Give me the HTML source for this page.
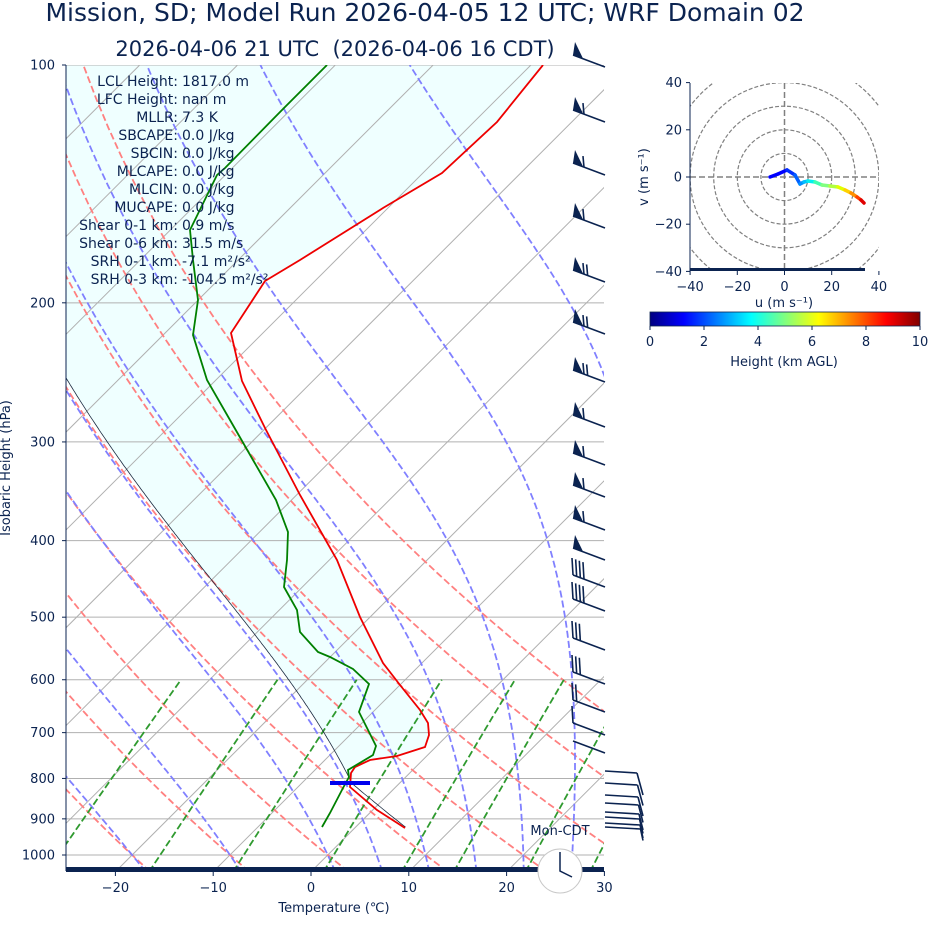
<!DOCTYPE html>
<html><head><meta charset="utf-8"><style>
html,body{margin:0;padding:0;background:#fff;}
svg{display:block;font-family:"DejaVu Sans","Liberation Sans",sans-serif;}
</style></head><body>
<svg id="s" width="928" height="936" viewBox="0 0 928 936" xmlns="http://www.w3.org/2000/svg">
<defs>
<clipPath id="pc"><rect x="66" y="65" width="538" height="806"/></clipPath>
<clipPath id="hc"><rect x="690" y="83" width="189" height="188"/></clipPath>
<linearGradient id="jet" x1="0" x2="1" y1="0" y2="0">
<stop offset="0" stop-color="#000080"/><stop offset="0.125" stop-color="#0000ff"/>
<stop offset="0.375" stop-color="#00ffff"/><stop offset="0.625" stop-color="#ffff00"/>
<stop offset="0.875" stop-color="#ff0000"/><stop offset="1" stop-color="#800000"/>
</linearGradient>
</defs>
<g id="plot" clip-path="url(#pc)"></g>
<g id="over"></g>
<g fill="#0b2350">
<text x="425" y="21" font-size="25" text-anchor="middle">Mission, SD; Model Run 2026-04-05 12 UTC; WRF Domain 02</text>
<text x="335" y="56" font-size="21" text-anchor="middle" xml:space="preserve">2026-04-06 21 UTC  (2026-04-06 16 CDT)</text>
<text x="334" y="912" font-size="13" text-anchor="middle">Temperature (℃)</text>
<text transform="translate(10,468) rotate(-90)" font-size="13" text-anchor="middle">Isobaric Height (hPa)</text>
<text x="560" y="835" font-size="13" text-anchor="middle">Mon-CDT</text>
</g>
<g font-size="14" fill="#0b2350" id="info"></g>
<g id="hodo"></g>
<rect x="650" y="312" width="270" height="14" fill="url(#jet)" stroke="#0b2350" stroke-width="0.8"/>
<g fill="#0b2350" font-size="13" text-anchor="middle" id="cb"></g>
<text x="784" y="366" font-size="13" fill="#0b2350" text-anchor="middle">Height (km AGL)</text>
</svg>
<script>
var NS="http://www.w3.org/2000/svg";
function el(parent,tag,attrs,txt){var e=document.createElementNS(NS,tag);for(var k in attrs)e.setAttribute(k,attrs[k]);if(txt!==undefined)e.textContent=txt;parent.appendChild(e);return e;}
var plot=document.getElementById('plot'),over=document.getElementById('over');
function Y(p){return 65+790*Math.log10(p/100);}
var YB=Y(1050);
function X(T,p){return 311+9.78*T+(YB-Y(p));}
function pl(pts){return pts.map(function(q){return q[0].toFixed(1)+','+q[1].toFixed(1)}).join(' ');}
var plev=[100,200,300,400,500,600,700,800,900,1000];
plev.forEach(function(p){el(plot,'line',{x1:66,x2:604,y1:Y(p),y2:Y(p),stroke:'#b0b0b0','stroke-width':1});});
for(var T=-150;T<=50;T+=10){var x0=311+9.78*T;el(plot,'line',{x1:x0,y1:YB,x2:x0+900,y2:YB-900,stroke:'#b0b0b0','stroke-width':1});}
var Rd=287.04,Cp=1005.7,Lv=2.501e6,eps=0.622;
function es(Tc){return 6.112*Math.exp(17.67*Tc/(Tc+243.5));}
function dTdp(T,p){var e=es(T-273.15);var rs=eps*e/(p-e);return (Rd*T+Lv*rs)/(Cp+Lv*Lv*rs*eps/(Rd*T*T))/p;}
function moist(T0,p0,p1){var pts=[],T=T0,p=p0,dp=(p1<p0?-2:2);pts.push([p,T]);
 while((dp<0&&p>p1)||(dp>0&&p<p1)){var k1=dTdp(T,p),k2=dTdp(T+k1*dp/2,p+dp/2),k3=dTdp(T+k2*dp/2,p+dp/2),k4=dTdp(T+k3*dp,p+dp);T+=dp*(k1+2*k2+2*k3+k4)/6;p+=dp;pts.push([p,T]);}
 return pts;}
var tProf=[[543,65],[497,122],[442,173],[383,208],[300,260],[265,281],[231,333],[242,381],[265,428],[300,495],[337,560],[360,617],[383,663],[400,685],[420,710],[428,723],[429,735],[425,747],[397,756],[370,760],[355,767],[351,773],[350,787],[357,793],[377,810],[405,828]];
var dProf=[[327,65],[282,110],[225,168],[217,175],[190,230],[193,260],[198,300],[193,335],[207,380],[230,420],[253,460],[276,500],[288,532],[287,560],[284,587],[297,610],[300,632],[318,652],[330,657],[353,669],[369,684],[359,712],[376,746],[373,755],[348,770],[349,777],[343,788],[330,813],[322,827]];
var Ts=278.25,ps=922,plcl=812;var Tl=Ts*Math.pow(plcl/ps,0.2857);
var par=moist(Tl,plcl,100).map(function(a){return [X(a[1]-273.15,a[0]),Y(a[0])];});
var dry=[];for(var p=ps;p>=plcl;p-=5){dry.push([X(Ts*Math.pow(p/ps,0.2857)-273.15,p),Y(p)]);}
dry.push([X(Tl-273.15,plcl),Y(plcl)]);
var shade=par.slice();var tr=tProf.slice(0,21);for(var i=0;i<tr.length;i++)shade.push(tr[i]);
plot.insertBefore(el(plot,'polygon',{points:pl(shade),fill:'#efffff',stroke:'none'}),plot.firstChild);
var DA='7,3.2';
for(var th=-30;th<=50;th+=10){var pts=[];for(var p=1050;p>=100;p-=10)pts.push([X((th+273.15)*Math.pow(p/1000,0.2857)-273.15,p),Y(p)]);
 el(plot,'polyline',{points:pl(pts),fill:'none',stroke:'#ff8080','stroke-width':1.8,'stroke-dasharray':DA});}
var mt=[-50,-40,-30,-20,-10,0,5,10,15,20,25,30,35];
mt.forEach(function(t){var up=moist(t+273.15,1000,100),dn=moist(t+273.15,1000,1050);var pts=dn.reverse().concat(up).map(function(a){return [X(a[1]-273.15,a[0]),Y(a[0])];});
 el(plot,'polyline',{points:pl(pts),fill:'none',stroke:'#8080ff','stroke-width':1.8,'stroke-dasharray':DA});});
[0.0004,0.001,0.002,0.004,0.007,0.01,0.016,0.024,0.032].forEach(function(w){var pts=[];for(var p=1050;p>=600;p-=10){var e=w*p/(eps+w);var L=Math.log(e/6.112);var Tc=243.5*L/(17.67-L);pts.push([X(Tc,p),Y(p)]);}
 el(plot,'polyline',{points:pl(pts),fill:'none',stroke:'#2f9a2f','stroke-width':1.8,'stroke-dasharray':DA});});
el(plot,'polyline',{points:pl(dry.concat(par)),fill:'none',stroke:'#1a2a40','stroke-width':0.8});
el(plot,'polyline',{points:pl(tProf),fill:'none',stroke:'#ee0000','stroke-width':1.8});
el(plot,'polyline',{points:pl(dProf),fill:'none',stroke:'#008000','stroke-width':1.8});
el(plot,'line',{x1:330,x2:370,y1:783,y2:783,stroke:'#0000ee','stroke-width':4});
el(over,'line',{x1:66,x2:66,y1:65,y2:871,stroke:'#0b2350','stroke-width':1});
el(over,'rect',{x:66,y:867,width:538,height:5,fill:'#0b2350'});
plev.forEach(function(p){el(over,'line',{x1:62,x2:66,y1:Y(p),y2:Y(p),stroke:'#0b2350'});el(over,'text',{x:55,y:Y(p)+4.5,'font-size':13,'text-anchor':'end',fill:'#0b2350'},String(p));});
for(var t=-20;t<=30;t+=10){var x=311+9.78*t;el(over,'line',{x1:x,x2:x,y1:871,y2:876,stroke:'#0b2350'});el(over,'text',{x:x,y:892,'font-size':13,'text-anchor':'middle',fill:'#0b2350'},(t<0?'\u2212'+(-t):String(t)));}
el(over,'circle',{cx:560,cy:871,r:22,fill:'#fff',stroke:'#c8c8c8','stroke-width':1});
el(over,'polyline',{points:'560,852 560,871 572,877',fill:'none',stroke:'#0b2350','stroke-width':1.5});
var NV='#0b2350';
function barbW(y,flag,nb){var g=el(over,'g',{stroke:NV,'stroke-width':1.6,fill:NV});
 var x0=605,x1=573,y1=y-12;el(g,'line',{x1:x0,y1:y,x2:x1,y2:y1});
 var dx=(x0-x1)/35,dy=(y-y1)/35,pos=0;
 if(flag){el(g,'polygon',{points:x1+','+y1+' '+(x1+2)+','+(y1-13)+' '+(x1+10)+','+(y1+3.5),stroke:'none'});pos=12;}
 for(var i=0;i<nb;i++){var bx=x1+dx*pos,by=y1+dy*pos;el(g,'line',{x1:bx,y1:by,x2:bx-1,y2:by-(flag?11:17)});pos+=4;}}
[[67,1,0],[122,1,1],[175,1,1],[228,1,1],[282,1,2],[334,1,2],[382,1,2],[427,1,1],[465,1,1],[497,1,1],[530,1,1],[560,1,0]].forEach(function(b){barbW(b[0],b[1],b[2]);});
[[587,0,4],[611,0,4],[650,0,3],[684,0,3],[712,0,2],[735,0,1],[753,0,0]].forEach(function(b){barbW(b[0],b[1],b[2]);});
[[771,3],[783,2],[795,2],[803,2],[812,2],[817,2],[823,2],[827,2]].forEach(function(b,i){var g=el(over,'g',{stroke:NV,'stroke-width':1.6});var y=b[0];
 el(g,'line',{x1:605,y1:y,x2:637+i*0.5,y2:y+2});el(g,'line',{x1:637+i*0.5,y1:y+2,x2:643,y2:y+24-i*1.5});});
var info=document.getElementById('info');
var L=[["LCL Height","1817.0 m"],["LFC Height","nan m"],["MLLR","7.3 K"],["SBCAPE","0.0 J/kg"],["SBCIN","0.0 J/kg"],["MLCAPE","0.0 J/kg"],["MLCIN","0.0 J/kg"],["MUCAPE","0.0 J/kg"],["Shear 0-1 km","0.9 m/s"],["Shear 0-6 km","31.5 m/s"],["SRH 0-1 km","-7.1 m\u00b2/s\u00b2"],["SRH 0-3 km","-104.5 m\u00b2/s\u00b2"]];
L.forEach(function(l,i){var y=86+18*i;el(info,'text',{x:178,y:y,'text-anchor':'end'},l[0]+':');el(info,'text',{x:178,y:y,dx:4},l[1]);});
var h=document.getElementById('hodo');var cx=784.5,cy=177,sc=2.36;
var hg=el(h,'g',{'clip-path':'url(#hc)'});
[10,20,30,40,50].forEach(function(r){el(hg,'circle',{cx:cx,cy:cy,r:r*sc,fill:'none',stroke:'#808080','stroke-width':1.2,'stroke-dasharray':'4,2'});});
el(hg,'line',{x1:690,x2:879,y1:cy,y2:cy,stroke:'#808080','stroke-width':1.5,'stroke-dasharray':'6,3'});
el(hg,'line',{x1:cx,x2:cx,y1:83,y2:271,stroke:'#808080','stroke-width':1.5,'stroke-dasharray':'6,3'});
var hp=[[770,177,'#0000c0'],[778,174,'#0000ff'],[787,170,'#0000ff'],[795,175,'#0030ff'],[800,184,'#0060ff'],[804,182,'#0090ff'],[808,181,'#00c0ff'],[815,182,'#00f0f0'],[822,185,'#40ffb0'],[830,186,'#80ff80'],[838,187,'#b0ff40'],[845,190,'#e0ff00'],[851,193,'#ffd000'],[857,197,'#ff9000'],[861,200,'#ff4000'],[864,203,'#e00000']];
for(var i=1;i<hp.length;i++)el(hg,'line',{x1:hp[i-1][0],y1:hp[i-1][1],x2:hp[i][0],y2:hp[i][1],stroke:hp[i][2],'stroke-width':3.5,'stroke-linecap':'round'});
el(h,'line',{x1:690,x2:690,y1:83,y2:271,stroke:NV});
el(h,'rect',{x:690,y:268,width:175,height:3,fill:NV});
[40,20,0,-20,-40].forEach(function(v){var y=cy-v*sc;el(h,'line',{x1:686,x2:690,y1:y,y2:y,stroke:NV});el(h,'text',{x:682,y:y+4.5,'font-size':13,'text-anchor':'end',fill:NV},v<0?'\u2212'+(-v):String(v));
 var x=cx+v*sc;el(h,'line',{x1:x,x2:x,y1:271,y2:275,stroke:NV});el(h,'text',{x:x,y:291,'font-size':13,'text-anchor':'middle',fill:NV},v<0?'\u2212'+(-v):String(v));});
el(h,'text',{x:784,y:307,'font-size':13,'text-anchor':'middle',fill:NV},'u (m s\u207b\u00b9)');
el(h,'text',{transform:'translate(648,177) rotate(-90)','font-size':13,'text-anchor':'middle',fill:NV},'v (m s\u207b\u00b9)');
var cb=document.getElementById('cb');
for(var k=0;k<=10;k+=2){var x=650+27*k;el(cb,'line',{x1:x,x2:x,y1:326,y2:330,stroke:NV});el(cb,'text',{x:x,y:346},String(k));}
</script>
</body></html>
